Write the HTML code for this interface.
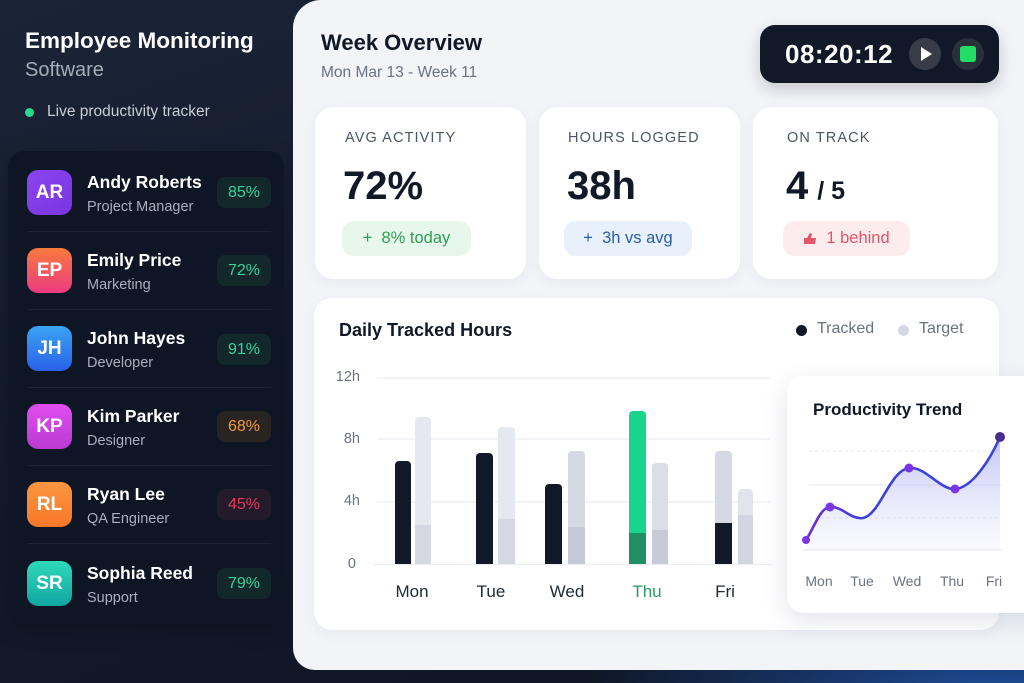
<!DOCTYPE html>
<html><head><meta charset="utf-8">
<style>
*{margin:0;padding:0;box-sizing:border-box}
html,body{width:1024px;height:683px;overflow:hidden}
body{position:relative;font-family:"Liberation Sans","DejaVu Sans",sans-serif;
background:radial-gradient(ellipse 420px 140px at 1000px 700px,#1f4f9e 0%,rgba(31,79,158,0) 100%),linear-gradient(160deg,#1b2437 0%,#131b2c 45%,#0d1422 100%);}
.a{position:absolute}
.title{left:25px;top:28px;font-size:22.5px;font-weight:bold;color:#fff;white-space:nowrap}
.sub{left:25px;top:59px;font-size:20px;color:#a6acb8}
.live{left:47px;top:103px;font-size:15.5px;color:#c9cdd6;white-space:nowrap}
.dot{left:25px;top:108px;width:9px;height:9px;border-radius:50%;background:#2bd88d}
.list{left:8px;top:151px;width:276px;height:473px;border-radius:16px;background:#0e1524;box-shadow:0 6px 20px rgba(0,0,0,.25)}
.av{width:45px;height:45px;border-radius:11px;color:#fff;font-weight:bold;font-size:19px;display:flex;align-items:center;justify-content:center}
.nm{font-size:17.5px;font-weight:bold;color:#fff;white-space:nowrap}
.rl{font-size:14.5px;color:#a9aebb;white-space:nowrap}
.bd{width:54px;height:31px;border-radius:8px;font-size:16px;display:flex;align-items:center;justify-content:center}
.div{left:27px;width:244px;height:1px;background:#1b2334}
.panel{left:293px;top:0;width:780px;height:670px;background:#f2f4f8;border-radius:28px 0 0 22px}
.card{background:#fff;border-radius:18px;box-shadow:0 4px 14px rgba(40,50,90,.05)}
.lab{font-size:14.5px;color:#4b5563;letter-spacing:1.1px;white-space:nowrap}
.val{font-size:40px;font-weight:bold;color:#111827;white-space:nowrap}
.pill{height:35px;border-radius:12px;font-size:16.5px;display:flex;align-items:center;justify-content:center;white-space:nowrap}
.yl{font-size:14.5px;color:#6b7280;text-align:right;width:40px}
.dl{font-size:17px;color:#1f2937;text-align:center;width:60px}
.tl{font-size:14px;color:#6b7280;text-align:center;width:40px}
</style></head><body>

<div class="a title">Employee Monitoring</div>
<div class="a sub">Software</div>
<div class="a dot"></div>
<div class="a live">Live productivity tracker</div>

<div class="a list"></div>
<div class="a av" style="left:27px;top:170px;background:linear-gradient(135deg,#8b45f0,#7a35e0)">AR</div>
<div class="a nm" style="left:87px;top:172px">Andy Roberts</div>
<div class="a rl" style="left:87px;top:199px">Project Manager</div>
<div class="a bd" style="left:217px;top:177px;background:#13282b;color:#34d399">85%</div>
<div class="a div" style="top:231px"></div>

<div class="a av" style="left:27px;top:248px;background:linear-gradient(180deg,#f97a3c,#ec3a80)">EP</div>
<div class="a nm" style="left:87px;top:250px">Emily Price</div>
<div class="a rl" style="left:87px;top:277px">Marketing</div>
<div class="a bd" style="left:217px;top:255px;background:#13282b;color:#34d399">72%</div>
<div class="a div" style="top:309px"></div>

<div class="a av" style="left:27px;top:326px;background:linear-gradient(180deg,#3aa3f2,#2a62ea)">JH</div>
<div class="a nm" style="left:87px;top:328px">John Hayes</div>
<div class="a rl" style="left:87px;top:355px">Developer</div>
<div class="a bd" style="left:217px;top:334px;background:#13282b;color:#34d399">91%</div>
<div class="a div" style="top:387px"></div>

<div class="a av" style="left:27px;top:404px;background:linear-gradient(180deg,#e04df0,#b93bd2)">KP</div>
<div class="a nm" style="left:87px;top:406px">Kim Parker</div>
<div class="a rl" style="left:87px;top:433px">Designer</div>
<div class="a bd" style="left:217px;top:411px;background:#272421;color:#f2993a">68%</div>
<div class="a div" style="top:465px"></div>

<div class="a av" style="left:27px;top:482px;background:linear-gradient(180deg,#fb9640,#f7782a)">RL</div>
<div class="a nm" style="left:87px;top:484px">Ryan Lee</div>
<div class="a rl" style="left:87px;top:511px">QA Engineer</div>
<div class="a bd" style="left:217px;top:489px;background:#231a2a;color:#e8365d">45%</div>
<div class="a div" style="top:543px"></div>

<div class="a av" style="left:27px;top:561px;background:linear-gradient(180deg,#2fd9b9,#10a6a2)">SR</div>
<div class="a nm" style="left:87px;top:563px">Sophia Reed</div>
<div class="a rl" style="left:87px;top:590px">Support</div>
<div class="a bd" style="left:217px;top:568px;background:#13282b;color:#34d399">79%</div>

<div class="a panel"></div>
<div class="a" style="left:321px;top:30px;font-size:22px;font-weight:bold;color:#111827;white-space:nowrap">Week Overview</div>
<div class="a" style="left:321px;top:64px;font-size:15.5px;color:#6b7280;white-space:nowrap">Mon Mar 13 - Week 11</div>

<div class="a" style="left:760px;top:25px;width:239px;height:58px;border-radius:15px;background:#111827;box-shadow:0 6px 16px rgba(17,24,39,.2)"></div>
<div class="a" style="left:785px;top:39px;font-size:26px;font-weight:bold;color:#fff;letter-spacing:0.5px">08:20:12</div>
<div class="a" style="left:909px;top:38px;width:32px;height:32px;border-radius:50%;background:#373c48"></div>
<div class="a" style="left:921px;top:47px;width:0;height:0;border-top:7px solid transparent;border-bottom:7px solid transparent;border-left:11px solid #fff"></div>
<div class="a" style="left:952px;top:38px;width:32px;height:32px;border-radius:50%;background:#2a303b"></div>
<div class="a" style="left:960px;top:46px;width:16px;height:16px;border-radius:3px;background:#22dd66"></div>

<div class="a card" style="left:315px;top:107px;width:211px;height:172px"></div>
<div class="a card" style="left:539px;top:107px;width:201px;height:172px"></div>
<div class="a card" style="left:753px;top:107px;width:245px;height:172px"></div>

<div class="a lab" style="left:345px;top:130px">AVG ACTIVITY</div>
<div class="a lab" style="left:568px;top:130px">HOURS LOGGED</div>
<div class="a lab" style="left:787px;top:130px">ON TRACK</div>

<div class="a val" style="left:343px;top:164px">72%</div>
<div class="a val" style="left:567px;top:164px">38h</div>
<div class="a val" style="left:786px;top:164px">4<span style="font-size:25px;font-weight:bold;margin-left:9px">/ 5</span></div>

<div class="a pill" style="left:342px;top:221px;width:129px;background:#e7f7ec;color:#2e9e55">+&nbsp;&nbsp;8% today</div>
<div class="a pill" style="left:564px;top:221px;width:128px;background:#e8f0fb;color:#2a5ea8">+&nbsp;&nbsp;3h vs avg</div>
<div class="a pill" style="left:783px;top:221px;width:127px;background:#fdecee;color:#e3556a">
<svg width="14" height="13" viewBox="0 0 14 13" style="margin-right:9px"><path d="M1,12 L1,6 L4,6 L7,1 L9,2 L8,6 L13,6 L12,12 Z" fill="#e3556a"/></svg>1 behind</div>

<div class="a card" style="left:314px;top:298px;width:685px;height:332px"></div>
<div class="a" style="left:339px;top:320px;font-size:18px;font-weight:bold;color:#111827;white-space:nowrap">Daily Tracked Hours</div>
<div class="a" style="left:796px;top:325px;width:11px;height:11px;border-radius:50%;background:#111827"></div>
<div class="a" style="left:817px;top:320px;font-size:16px;color:#6b7280">Tracked</div>
<div class="a" style="left:898px;top:325px;width:11px;height:11px;border-radius:50%;background:#d5d8e1"></div>
<div class="a" style="left:919px;top:320px;font-size:16px;color:#6b7280">Target</div>

<div class="a yl" style="left:320px;top:369px">12h</div>
<div class="a yl" style="left:320px;top:431px">8h</div>
<div class="a yl" style="left:320px;top:493px">4h</div>
<div class="a yl" style="left:316px;top:556px">0</div>

<svg class="a" style="left:0;top:0" width="1024" height="683">
<g stroke="#eceef3" stroke-width="1.2">
<line x1="377" y1="378" x2="770" y2="378"/>
<line x1="377" y1="439" x2="770" y2="439"/>
<line x1="377" y1="502" x2="770" y2="502"/>
<line x1="373" y1="564.5" x2="772" y2="564.5"/>
</g>
<rect x="395" y="461" width="16" height="103" rx="4" fill="#111827"/><rect x="395" y="470" width="16" height="94" fill="#111827"/>
<rect x="415" y="417" width="16" height="147" rx="4" fill="#e6e8f0"/><rect x="415" y="525" width="16" height="39" fill="#d5d8e2"/>
<rect x="476" y="453" width="17" height="111" rx="4" fill="#111827"/><rect x="476" y="462" width="17" height="102" fill="#111827"/>
<rect x="498" y="427" width="17" height="137" rx="4" fill="#e6e8f0"/><rect x="498" y="519" width="17" height="45" fill="#d5d8e2"/>
<rect x="545" y="484" width="17" height="80" rx="4" fill="#111827"/><rect x="545" y="493" width="17" height="71" fill="#111827"/>
<rect x="568" y="451" width="17" height="113" rx="4" fill="#d6d9e3"/><rect x="568" y="527" width="17" height="37" fill="#c6c9d6"/>
<rect x="629" y="411" width="17" height="153" rx="4" fill="#19d48c"/><rect x="629" y="533" width="17" height="31" fill="#1f9066"/>
<rect x="652" y="463" width="16" height="101" rx="4" fill="#dcdee7"/><rect x="652" y="530" width="16" height="34" fill="#c8cad7"/>
<rect x="715" y="451" width="17" height="113" rx="4" fill="#d6d9e3"/><rect x="715" y="523" width="17" height="41" fill="#111827"/>
<rect x="738" y="489" width="15" height="75" rx="4" fill="#e2e4ec"/><rect x="738" y="515" width="15" height="49" fill="#d2d5df"/>
</svg>

<div class="a dl" style="left:382px;top:582px">Mon</div>
<div class="a dl" style="left:461px;top:582px">Tue</div>
<div class="a dl" style="left:537px;top:582px">Wed</div>
<div class="a dl" style="left:617px;top:582px;color:#2a9a62">Thu</div>
<div class="a dl" style="left:695px;top:582px">Fri</div>

<div class="a" style="left:787px;top:376px;width:260px;height:237px;background:#fff;border-radius:17px;box-shadow:0 8px 26px rgba(40,50,100,.13)"></div>
<div class="a" style="left:813px;top:400px;font-size:17px;font-weight:bold;color:#111827;white-space:nowrap">Productivity Trend</div>
<svg class="a" style="left:0;top:0" width="1024" height="683">
<defs>
<linearGradient id="ar" x1="0" y1="0" x2="0" y2="1">
<stop offset="0" stop-color="#8f93ec" stop-opacity=".55"/>
<stop offset="1" stop-color="#c9cbf6" stop-opacity=".1"/>
</linearGradient>
<linearGradient id="ln" x1="0" y1="0" x2="1" y2="0">
<stop offset="0" stop-color="#6a2fd8"/><stop offset=".3" stop-color="#3d3fd6"/><stop offset="1" stop-color="#3b43d8"/>
</linearGradient>
</defs>
<g stroke="#e6e8f0" stroke-width="1">
<line x1="809" y1="451" x2="1002" y2="451" stroke-dasharray="3 3"/>
<line x1="809" y1="485" x2="1002" y2="485"/>
<line x1="809" y1="518" x2="1002" y2="518" stroke-dasharray="3 3"/>
<line x1="803" y1="550" x2="1002" y2="550"/>
</g>
<path d="M806,540 C815,526 820,508 830,507 C842,506 851,520 863,518 C880,515 890,470 909,468 C925,466 940,490 955,489 C972,488 990,460 1000,437 L1000,550 L806,550 Z" fill="url(#ar)"/>
<path d="M806,540 C815,526 820,508 830,507 C842,506 851,520 863,518 C880,515 890,470 909,468 C925,466 940,490 955,489 C972,488 990,460 1000,437" fill="none" stroke="url(#ln)" stroke-width="2.6"/>
<circle cx="806" cy="540" r="4" fill="#7b35e6"/>
<circle cx="830" cy="507" r="4.5" fill="#7b35e6"/>
<circle cx="909" cy="468" r="4.5" fill="#7b35e6"/>
<circle cx="955" cy="489" r="4.5" fill="#7b35e6"/>
<circle cx="1000" cy="437" r="5" fill="#4a2c8c"/>
</svg>
<div class="a tl" style="left:799px;top:573px">Mon</div>
<div class="a tl" style="left:842px;top:573px">Tue</div>
<div class="a tl" style="left:887px;top:573px">Wed</div>
<div class="a tl" style="left:932px;top:573px">Thu</div>
<div class="a tl" style="left:974px;top:573px">Fri</div>

</body></html>
